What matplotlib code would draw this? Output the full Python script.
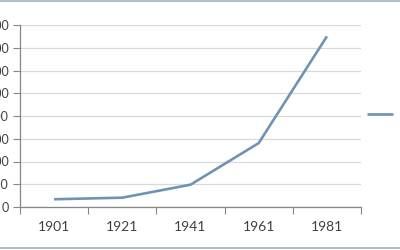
import matplotlib
matplotlib.use("Agg")
import matplotlib.pyplot as plt
from matplotlib.lines import Line2D

years = ["1901", "1921", "1941", "1961", "1981"]
values = [34, 41, 98, 281, 750]
yticks = [0, 100, 200, 300, 400, 500, 600, 700, 800]
series_name = "Series1"

plt.rcParams['font.family'] = ['Lato', 'DejaVu Sans']

fig = plt.figure(figsize=(4, 2.5), dpi=100)
ax = fig.add_axes([0.05, 0.172, 0.8525, 0.728])

x = list(range(len(years)))
ax.plot(x, values, color='#6F93B5', lw=1.9, solid_capstyle='butt', label=series_name)
ax.set_xlim(-0.5, len(years) - 0.5)
ax.set_ylim(0, 800)
ax.set_yticks(yticks)
ax.set_yticklabels([str(v) for v in yticks], fontsize=9, color='#404040')
ax.set_xticks(x)
ax.set_xticklabels(years, fontsize=10, color='#404040')
ax.set_xticks([i - 0.5 for i in range(len(years) + 1)], minor=True)
ax.tick_params(axis='x', which='major', length=0, pad=10)
ax.tick_params(axis='x', which='minor', length=5, color='#868686', width=0.8)
ax.tick_params(axis='y', length=5, color='#868686', width=0.8, pad=3)
ax.grid(axis='y', color='#D9D9D9', lw=0.9)
ax.set_axisbelow(True)
for s in ['top', 'right']:
    ax.spines[s].set_visible(False)
for s in ['left', 'bottom']:
    ax.spines[s].set_color('#868686')
    ax.spines[s].set_linewidth(0.9)

fig.legend(loc='center left', bbox_to_anchor=(0.918, 0.54), frameon=False,
           handlelength=1.85, fontsize=10, borderaxespad=0, borderpad=0)

fig.add_artist(Line2D([0, 1], [0.996, 0.996], transform=fig.transFigure, color='#9FB4C3', lw=1.2))
fig.add_artist(Line2D([0, 1], [0.01, 0.01], transform=fig.transFigure, color='#9FB4C3', lw=1.2))

fig.savefig("out.png", dpi=100)
